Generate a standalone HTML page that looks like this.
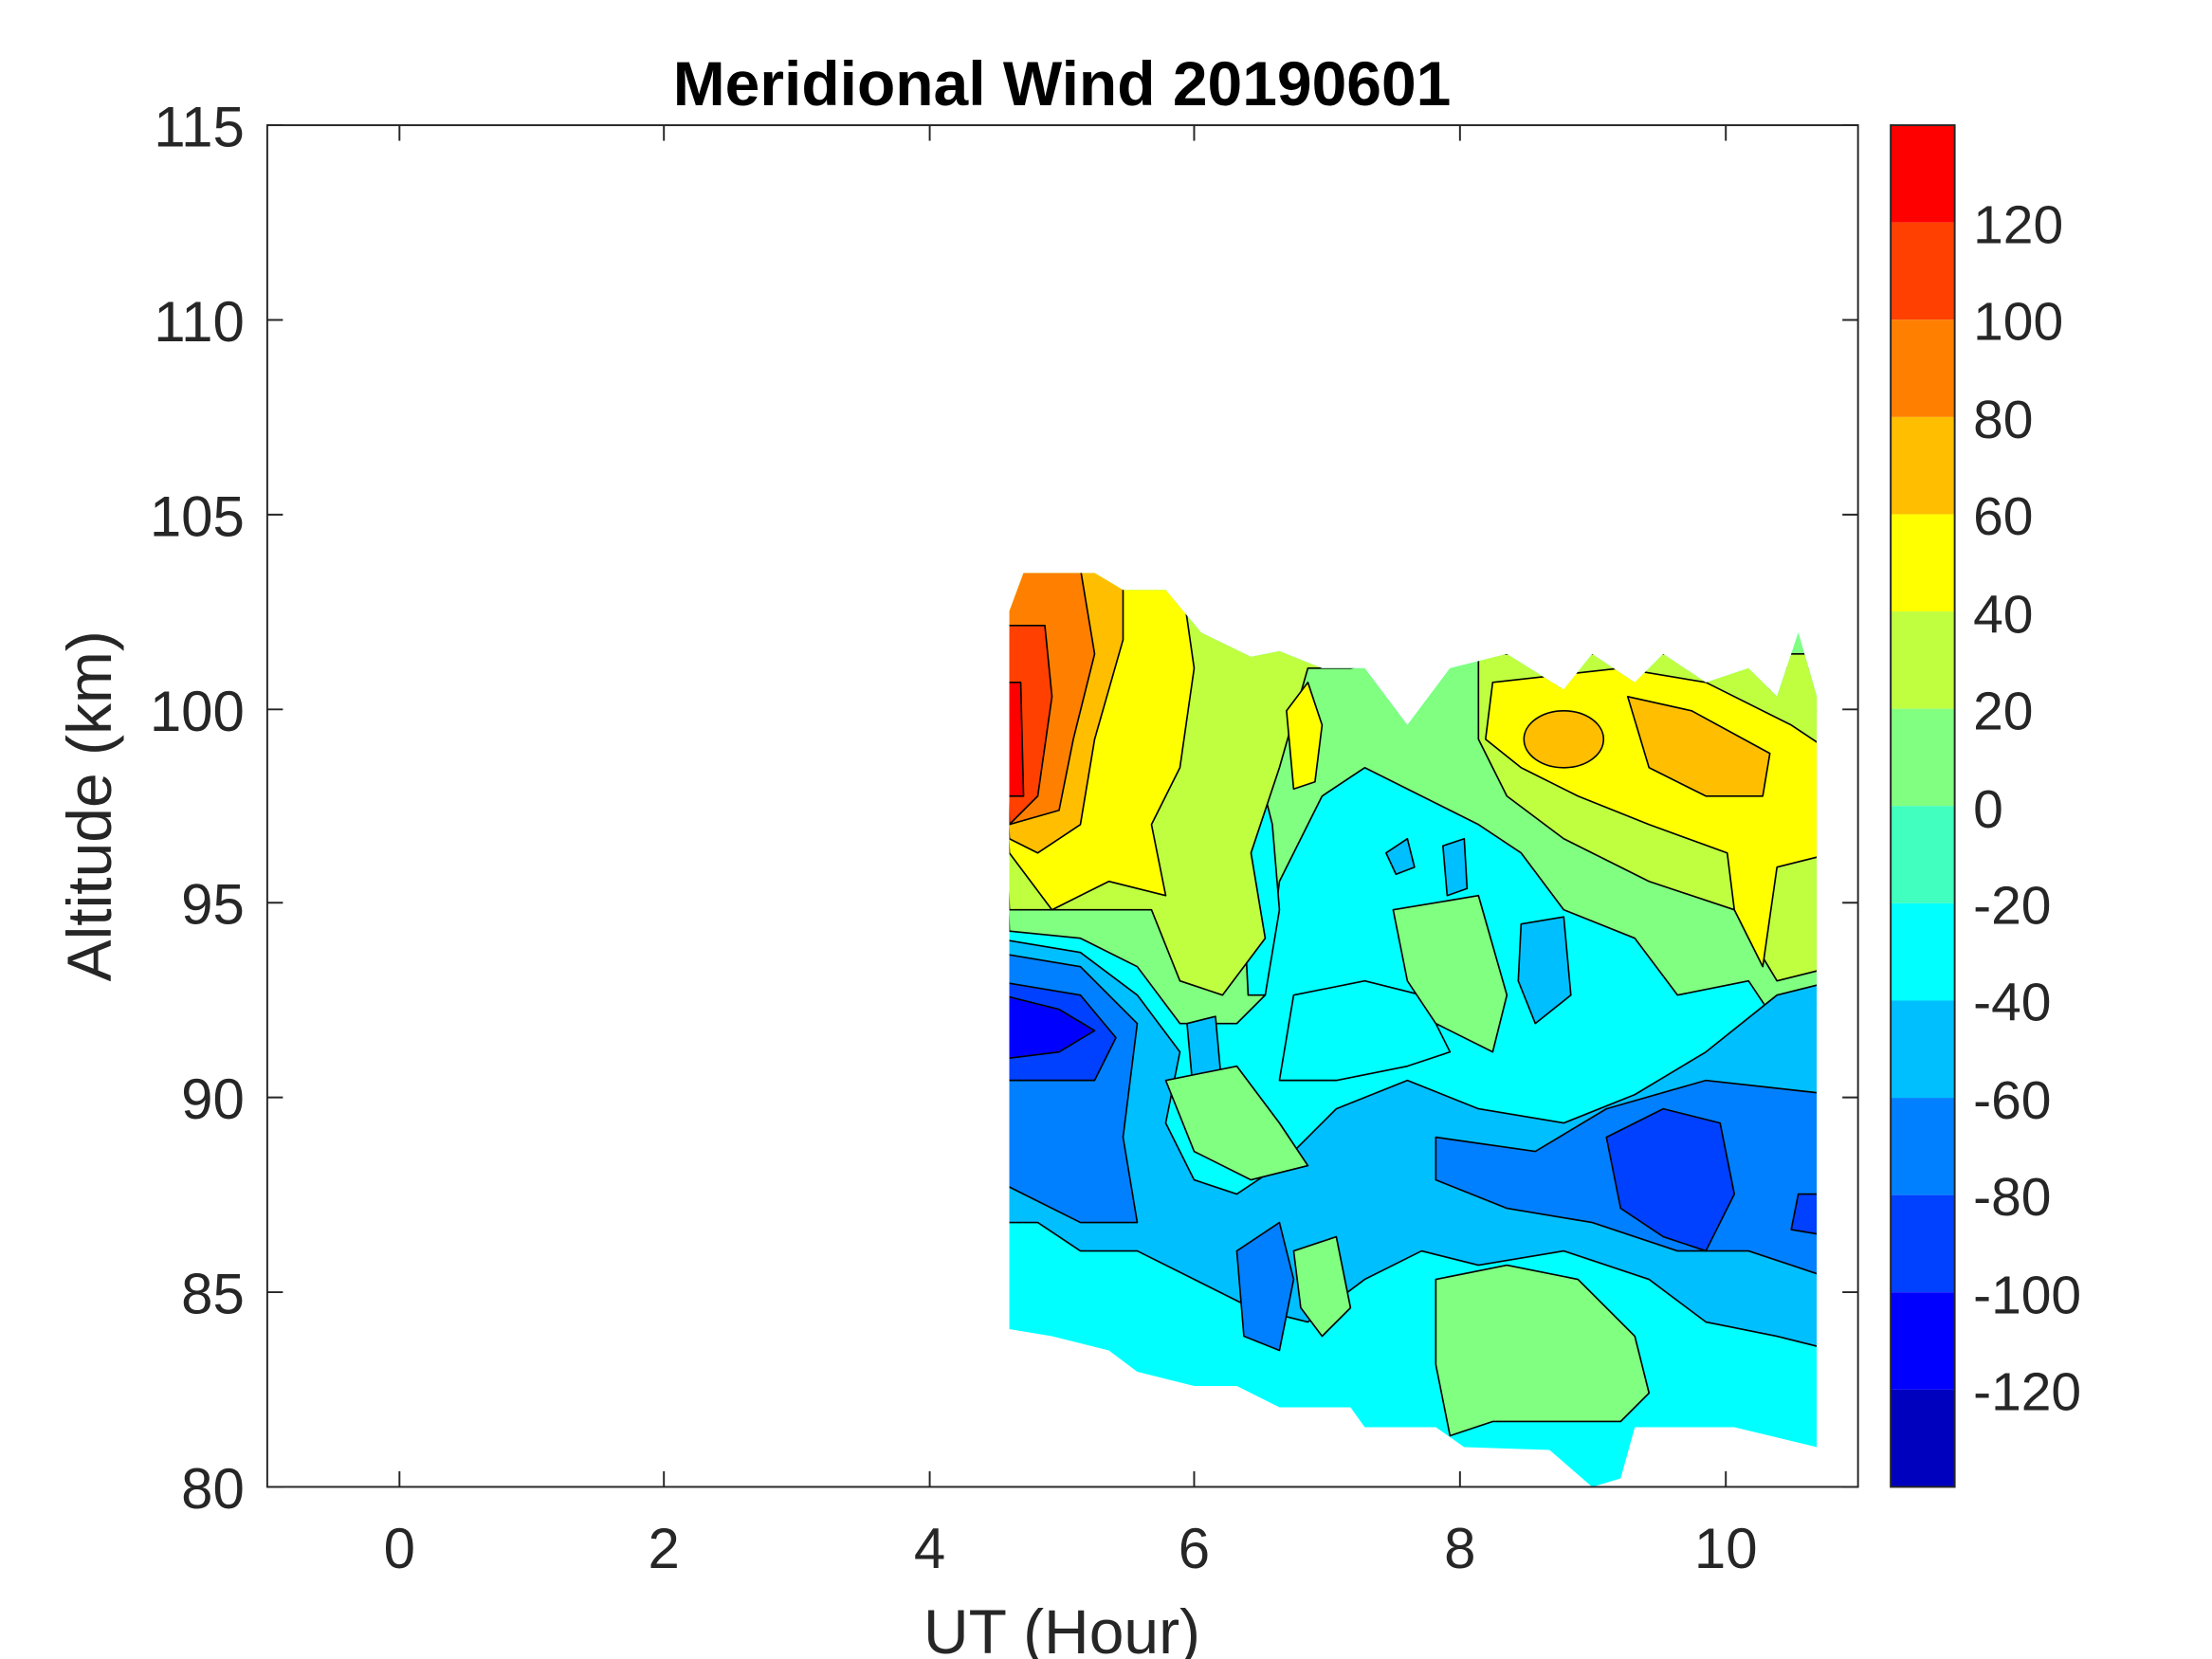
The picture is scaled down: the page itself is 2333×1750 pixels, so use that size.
<!DOCTYPE html>
<html><head><meta charset="utf-8"><style>html,body{margin:0;padding:0;background:#fff}svg{display:block}</style></head>
<body>
<svg width="2333" height="1750" viewBox="0 0 1556 1167" xmlns="http://www.w3.org/2000/svg" font-family="Liberation Sans, sans-serif">
<defs>
<clipPath id="dc"><polygon points="710,430 720,403 770,403 790,415 820,415 845,445 880,462 900,458 930,470 960,470 990,510 1020,470 1060,460 1100,485 1120,460 1150,480 1170,460 1200,480 1230,470 1250,490 1265,445 1278,490 1278,1018 1220,1004 1150,1004 1140,1040 1120,1046 1090,1020 1030,1018 1010,1004 960,1004 950,990 900,990 870,975 840,975 800,965 780,950 740,940 710,935"/></clipPath>
</defs>
<g clip-path="url(#dc)" stroke="#000" stroke-width="1.1" stroke-linejoin="round">
<rect x="700" y="390" width="600" height="670" fill="#00FFFF" stroke="none"/>
<polygon fill="#80FF80" points="700,400 1290,400 1290,700 1250,720 1230,690 1180,700 1150,660 1100,640 1070,600 1040,580 1000,560 960,540 930,560 900,620 890,700 870,720 830,720 800,680 760,660 710,655"/>
<polygon fill="#00FFFF" points="872,545 885,540 895,580 900,640 890,700 878,700 875,640"/>
<polygon fill="#00FFFF" points="1240,470 1290,470 1290,500 1250,500"/>
<polygon fill="#BFFF40" points="700,400 1000,400 1000,460 950,470 920,470 900,540 880,600 890,660 860,700 830,690 810,640 760,640 710,640"/>
<polygon fill="#BFFF40" points="1040,460 1290,460 1290,680 1250,690 1220,640 1160,620 1100,590 1060,560 1040,520"/>
<polygon fill="#FFFF00" points="700,400 830,400 840,470 830,540 810,580 820,630 780,620 740,640 710,600"/>
<polygon fill="#FFFF00" points="1050,480 1140,470 1200,480 1260,510 1290,530 1290,600 1250,610 1240,680 1220,640 1215,600 1160,580 1110,560 1070,540 1045,520"/>
<polygon fill="#FFFF00" points="905,500 920,480 930,510 925,550 910,555"/>
<polygon fill="#FFBF00" points="700,400 790,400 790,450 770,520 760,580 730,600 710,590"/>
<ellipse fill="#FFBF00" cx="1100" cy="520" rx="28" ry="20"/>
<polygon fill="#FFBF00" points="1145,490 1190,500 1245,530 1240,560 1200,560 1160,540"/>
<polygon fill="#FF8000" points="705,400 760,400 770,460 755,520 745,570 710,580"/>
<polygon fill="#FF4000" points="705,440 735,440 740,490 730,560 710,580"/>
<polygon fill="#FF0000" points="705,480 718,480 720,560 705,560"/>
<polygon fill="#00BFFF" points="700,660 760,670 800,700 830,740 820,790 840,830 870,840 900,820 940,780 990,760 1040,780 1100,790 1150,770 1200,740 1250,700 1290,690 1290,950 1250,940 1200,930 1160,900 1100,880 1040,890 1000,880 960,900 920,930 880,920 840,900 800,880 760,880 730,860 700,860"/>
<polygon fill="#00FFFF" points="910,700 960,690 1000,700 1020,740 990,750 940,760 900,760"/>
<polygon fill="#00BFFF" points="1070,650 1100,645 1105,700 1080,720 1068,690"/>
<polygon fill="#00BFFF" points="975,600 990,590 995,610 982,615"/>
<polygon fill="#00BFFF" points="1015,595 1030,590 1032,625 1018,630"/>
<polygon fill="#00BFFF" points="835,720 855,715 860,770 840,775"/>
<polygon fill="#80FF80" points="820,760 870,750 900,790 920,820 880,830 840,810"/>
<polygon fill="#80FF80" points="980,640 1040,630 1060,700 1050,740 1010,720 990,690"/>
<polygon fill="#80FF80" points="1010,900 1060,890 1110,900 1150,940 1160,980 1140,1000 1050,1000 1020,1010 1010,960"/>
<polygon fill="#80FF80" points="910,880 940,870 950,920 930,940 915,920"/>
<polygon fill="#0080FF" points="700,670 760,680 800,720 790,800 800,860 760,860 720,840 700,830"/>
<polygon fill="#0080FF" points="1010,800 1080,810 1130,780 1200,760 1290,770 1290,900 1230,880 1180,880 1120,860 1060,850 1010,830"/>
<polygon fill="#0080FF" points="870,880 900,860 910,900 900,950 875,940"/>
<polygon fill="#0040FF" points="700,690 760,700 785,730 770,760 730,760 700,760"/>
<polygon fill="#0040FF" points="1130,800 1170,780 1210,790 1220,840 1200,880 1170,870 1140,850"/>
<polygon fill="#0040FF" points="1265,840 1290,840 1290,870 1260,865"/>
<polygon fill="#0000FF" points="705,700 745,710 770,725 745,740 705,745"/>
</g>
<rect x="188" y="88" width="1119" height="958" fill="none" stroke="#262626" stroke-width="1.3"/>
<g stroke="#262626" stroke-width="1.3">
<path d="M281,1046v-11M467,1046v-11M654,1046v-11M840,1046v-11M1027,1046v-11M1214,1046v-11"/>
<path d="M281,88v11M467,88v11M654,88v11M840,88v11M1027,88v11M1214,88v11"/>
<path d="M188,88h11M188,225h11M188,362h11M188,499h11M188,635h11M188,772h11M188,909h11M188,1046h11"/>
<path d="M1307,88h-11M1307,225h-11M1307,362h-11M1307,499h-11M1307,635h-11M1307,772h-11M1307,909h-11M1307,1046h-11"/>
</g>
<g font-size="40" fill="#262626" text-anchor="middle">
<text x="281" y="1103">0</text><text x="467" y="1103">2</text><text x="654" y="1103">4</text><text x="840" y="1103">6</text><text x="1027" y="1103">8</text><text x="1214" y="1103">10</text>
</g>
<g font-size="40" fill="#262626" text-anchor="end">
<text x="172" y="103">115</text><text x="172" y="240">110</text><text x="172" y="377">105</text><text x="172" y="514">100</text><text x="172" y="650">95</text><text x="172" y="787">90</text><text x="172" y="924">85</text><text x="172" y="1061">80</text>
</g>
<text x="747" y="1163" font-size="44" fill="#262626" text-anchor="middle">UT (Hour)</text>
<text transform="translate(78,567) rotate(-90)" font-size="44" fill="#262626" text-anchor="middle">Altitude (km)</text>
<text x="747" y="74" font-size="44" font-weight="bold" fill="#000" text-anchor="middle">Meridional Wind 20190601</text>
<g>
<rect x="1330" y="88" width="45" height="68.43" fill="#FF0000"/>
<rect x="1330" y="156.43" width="45" height="68.43" fill="#FF4000"/>
<rect x="1330" y="224.86" width="45" height="68.43" fill="#FF8000"/>
<rect x="1330" y="293.29" width="45" height="68.43" fill="#FFBF00"/>
<rect x="1330" y="361.71" width="45" height="68.43" fill="#FFFF00"/>
<rect x="1330" y="430.14" width="45" height="68.43" fill="#BFFF40"/>
<rect x="1330" y="498.57" width="45" height="68.43" fill="#80FF80"/>
<rect x="1330" y="567" width="45" height="68.43" fill="#40FFBF"/>
<rect x="1330" y="635.43" width="45" height="68.43" fill="#00FFFF"/>
<rect x="1330" y="703.86" width="45" height="68.43" fill="#00BFFF"/>
<rect x="1330" y="772.29" width="45" height="68.43" fill="#0080FF"/>
<rect x="1330" y="840.71" width="45" height="68.43" fill="#0040FF"/>
<rect x="1330" y="909.14" width="45" height="68.43" fill="#0000FF"/>
<rect x="1330" y="977.57" width="45" height="68.43" fill="#0000BF"/>
<rect x="1330" y="88" width="45" height="958" fill="none" stroke="#262626" stroke-width="1.3"/>
</g>
<g font-size="38" fill="#262626">
<text x="1388" y="171">120</text><text x="1388" y="239">100</text><text x="1388" y="308">80</text><text x="1388" y="376">60</text><text x="1388" y="445">40</text><text x="1388" y="513">20</text><text x="1388" y="582">0</text><text x="1388" y="650">-20</text><text x="1388" y="718">-40</text><text x="1388" y="787">-60</text><text x="1388" y="855">-80</text><text x="1388" y="924">-100</text><text x="1388" y="992">-120</text>
</g>
</svg>
</body></html>
